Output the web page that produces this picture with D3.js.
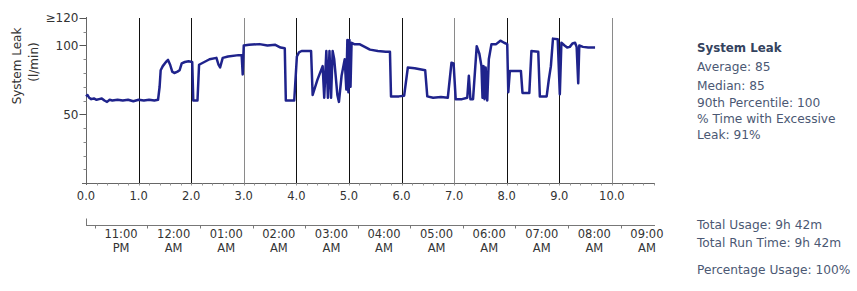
<!DOCTYPE html>
<html>
<head>
<meta charset="utf-8">
<script src="https://cdn.jsdelivr.net/npm/d3@7"></script>
<style>
	body { margin: 0; background: #fff; }
	svg { display: block; font-family: "DejaVu Sans", Verdana, sans-serif; }
</style>
</head>
<body>
<div id="visHolder"></div>
<script>
// hours since start of session and leak (l/min)
const hours = [
	0.00, 0.03, 0.06, 0.10, 0.15, 0.20, 0.25, 0.30, 0.35, 0.40, 0.45, 0.50, 0.60, 0.70, 0.80, 0.90, 1.00, 1.10, 1.20, 1.30, 1.37,
	1.40, 1.42, 1.46, 1.52, 1.56, 1.60, 1.64, 1.68, 1.74, 1.78, 1.82, 1.88, 1.95, 2.02,
	2.04, 2.12, 2.15, 2.25, 2.35, 2.48, 2.52, 2.55, 2.60, 2.70, 2.90, 2.96, 2.98, 3.00, 3.10, 3.30, 3.45, 3.60, 3.70, 3.78,
	3.80, 3.96, 4.01, 4.05, 4.10, 4.28, 4.31, 4.40, 4.50, 4.53, 4.57, 4.60, 4.63, 4.66, 4.69, 4.72, 4.78, 4.81, 4.86, 4.92,
	4.95, 4.97, 4.99, 5.01, 5.03, 5.05, 5.10, 5.20, 5.30, 5.40, 5.55, 5.70, 5.78,
	5.80, 5.95, 6.05, 6.12, 6.25, 6.45, 6.49, 6.60, 6.75, 6.88, 6.95, 6.99, 7.03, 7.15, 7.25, 7.28, 7.31, 7.36,
	7.43, 7.48, 7.52, 7.54, 7.56, 7.58, 7.60, 7.63, 7.66, 7.71, 7.80, 7.88, 7.95, 8.01,
	8.03, 8.06, 8.20, 8.27, 8.30, 8.43, 8.47, 8.60, 8.63, 8.76, 8.80, 8.84, 8.88, 8.97,
	9.01, 9.04, 9.10, 9.15, 9.20, 9.25, 9.30, 9.33, 9.36, 9.38, 9.45, 9.55, 9.68,
];
const leak = [
	63, 64, 62, 61, 61.5, 60.5, 61, 61.5, 60, 59, 60.5, 60, 60.5, 60, 60.5, 59.5, 60.5, 60, 60.5, 60, 60.5,
	70, 82, 85, 88, 89.5, 86, 81, 80, 81, 82, 87, 88, 88.5, 88,
	60, 60, 86, 88, 90, 91, 86, 84, 91, 92, 93, 93, 79, 100, 100.5, 101, 100, 100.5, 98.5, 98,
	60, 60, 92, 95, 96, 96, 64, 75, 85, 62, 96, 62, 96, 62, 96, 90, 64, 59, 78, 90,
	68, 104, 66, 104, 70, 102, 101, 101, 99, 97, 96, 95.5, 95.5,
	63, 63, 63.5, 84, 83.5, 82, 63, 62, 62.5, 62, 87.5, 87, 61, 61, 62, 78, 61, 61,
	99.5, 94, 85, 62, 85, 61, 84, 60, 90, 101, 101, 103.5, 102, 101,
	66, 81.5, 81.5, 81.5, 65.5, 65.5, 96, 95.5, 63, 63, 75, 85, 105, 104.5,
	64.5, 102, 100, 98.5, 99, 101.5, 102, 99, 72.5, 100, 99, 98.5, 98.5,
];

const hourTicks = [0, 1, 2, 3, 4, 5, 6, 7, 8, 9, 10];
const leakTicks = [50, 100, 120];
const leakTickLabels = ["50", "100", "≥120"];
const clockLabels = [
	["11:00", "PM"], ["12:00", "AM"], ["01:00", "AM"], ["02:00", "AM"], ["03:00", "AM"],
	["04:00", "AM"], ["05:00", "AM"], ["06:00", "AM"], ["07:00", "AM"], ["08:00", "AM"], ["09:00", "AM"],
];
const startOffset = 2 / 3; // session started 22:20, first full hour 23:00
const summaryTitle = "System Leak";
const summaryLines = ["Average: 85", "Median: 85", "90th Percentile: 100", "% Time with Excessive", "Leak: 91%"];
const usageLines = ["Total Usage: 9h 42m", "Total Run Time: 9h 42m"];
const percentLine = "Percentage Usage: 100%";

const width = 857;
const height = 291;
const plot = { left: 86, right: 655, top: 18, bottom: 183 };

const svg = d3
	.select("#visHolder")
	.append("svg")
	.attr("width", width)
	.attr("height", height);

const x = d3.scaleLinear().domain([0, 10.82]).range([plot.left, plot.right]);
const y = d3.scaleLinear().domain([0, 120]).range([plot.bottom, plot.top]);

//vertical hour lines
const greyLines = new Set([3, 7, 10]);
svg.append("g")
	.selectAll("line")
	.data(hourTicks.filter((d) => d > 0))
	.join("line")
	.attr("x1", (d) => Math.round(x(d)) + 0.5)
	.attr("x2", (d) => Math.round(x(d)) + 0.5)
	.attr("y1", plot.top)
	.attr("y2", plot.bottom)
	.attr("stroke", (d) => (greyLines.has(d) ? "#8a8a8a" : "#111"))
	.attr("stroke-width", 1);

//y axis
const yAxis = svg.append("g").attr("transform", `translate(${plot.left + 0.5},0)`);
yAxis.append("line")
	.attr("y1", plot.top - 1)
	.attr("y2", plot.bottom + 2)
	.attr("stroke", "#666");
yAxis.selectAll(".minor")
	.data(d3.range(10, 121, 10))
	.join("line")
	.attr("class", "minor")
	.attr("x1", -3)
	.attr("x2", 0)
	.attr("y1", (d) => Math.round(y(d)) + 0.5)
	.attr("y2", (d) => Math.round(y(d)) + 0.5)
	.attr("stroke", "#888");
yAxis.selectAll(".major")
	.data(leakTicks)
	.join("line")
	.attr("class", "major")
	.attr("x1", -7)
	.attr("x2", 0)
	.attr("y1", (d) => Math.round(y(d)) + 0.5)
	.attr("y2", (d) => Math.round(y(d)) + 0.5)
	.attr("stroke", "#555");
yAxis.selectAll("text")
	.data(leakTicks)
	.join("text")
	.attr("x", -8)
	.attr("y", (d) => y(d))
	.attr("dy", "0.36em")
	.attr("text-anchor", "end")
	.attr("font-size", 12)
	.attr("fill", "#333")
	.text((d, i) => leakTickLabels[i]);

svg.append("text")
	.attr("transform", "translate(21,66) rotate(-90)")
	.attr("text-anchor", "middle")
	.attr("font-size", 12)
	.attr("fill", "#333")
	.text("System Leak");
svg.append("text")
	.attr("transform", "translate(38,62) rotate(-90)")
	.attr("text-anchor", "middle")
	.attr("font-size", 12)
	.attr("fill", "#333")
	.text("(l/min)");

//x axis in hours
const xAxis = svg.append("g").attr("transform", `translate(0,${plot.bottom + 0.5})`);
xAxis.append("line")
	.attr("x1", plot.left - 4)
	.attr("x2", plot.right)
	.attr("stroke", "#666");
xAxis.selectAll(".minor")
	.data(d3.range(0.2, 10.8, 0.2))
	.join("line")
	.attr("class", "minor")
	.attr("x1", (d) => Math.round(x(d)) + 0.5)
	.attr("x2", (d) => Math.round(x(d)) + 0.5)
	.attr("y1", 0)
	.attr("y2", 2)
	.attr("stroke", "#999");
xAxis.selectAll("text")
	.data(hourTicks)
	.join("text")
	.attr("x", (d) => x(d))
	.attr("y", 16)
	.attr("text-anchor", "middle")
	.attr("font-size", 11.5)
	.attr("fill", "#333")
	.text((d) => d3.format(".1f")(d));

//clock axis
const clockY = 225.5;
const clock = svg.append("g").attr("transform", `translate(0,${clockY})`);
clock.append("line")
	.attr("x1", plot.left)
	.attr("x2", plot.right)
	.attr("stroke", "#777");
clock.append("line")
	.attr("x1", plot.left + 0.5)
	.attr("x2", plot.left + 0.5)
	.attr("y1", -7)
	.attr("y2", 0)
	.attr("stroke", "#777");
clock.selectAll(".tick")
	.data(d3.range(0, 11).map((i) => startOffset - 0.5 + i))
	.join("line")
	.attr("class", "tick")
	.attr("x1", (d) => Math.round(x(d)) + 0.5)
	.attr("x2", (d) => Math.round(x(d)) + 0.5)
	.attr("y1", 0)
	.attr("y2", 3)
	.attr("stroke", "#777");
const clockText = clock
	.selectAll("text")
	.data(clockLabels)
	.join("text")
	.attr("text-anchor", "middle")
	.attr("font-size", 11.5)
	.attr("fill", "#333")
	.attr("transform", (d, i) => `translate(${x(startOffset + i)},0)`);
clockText.append("tspan").attr("x", 0).attr("y", 12).text((d) => d[0]);
clockText.append("tspan").attr("x", 0).attr("y", 26).text((d) => d[1]);

//leak line
const line = d3
	.line()
	.x((d) => x(d))
	.y((d, i) => y(leak[i]));
svg.append("path")
	.attr("d", line(hours))
	.attr("fill", "none")
	.attr("stroke", "#1f238c")
	.attr("stroke-width", 2.5)
	.attr("stroke-linejoin", "round");

//summary text
const side = svg.append("g").attr("transform", "translate(697,0)");
side.append("text")
	.attr("y", 52)
	.attr("font-size", 11.8)
	.attr("font-weight", "bold")
	.attr("fill", "#34435e")
	.text(summaryTitle);
side.selectAll(".stat")
	.data(summaryLines)
	.join("text")
	.attr("class", "stat")
	.attr("y", (d, i) => [71, 90, 107, 123, 139][i])
	.attr("font-size", 12.2)
	.attr("fill", "#4b5873")
	.text((d) => d);
side.selectAll(".usage")
	.data([...usageLines, percentLine])
	.join("text")
	.attr("class", "usage")
	.attr("y", (d, i) => [229, 247, 274][i])
	.attr("font-size", 12.2)
	.attr("fill", "#4b5873")
	.text((d) => d);
</script>
</body>
</html>
